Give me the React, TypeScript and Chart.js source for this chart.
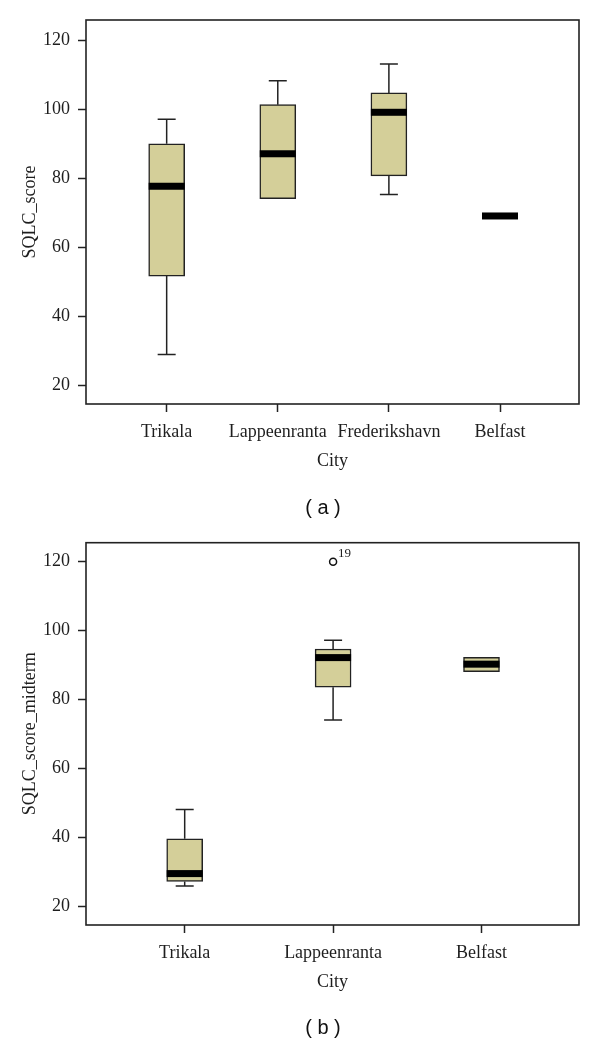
import React, { useEffect, useRef } from "react";
import { Chart, registerables } from "chart.js";

Chart.register(...registerables);

// ---------- Data (a) ----------
const citiesA = ["Trikala", "Lappeenranta", "Frederikshavn", "Belfast"];
const minA = [29, 74.1, 75.3, 69.1];
const q1A = [51.7, 74.1, 80.7, 69.1];
const medA = [77.7, 87.1, 99.1, 69.1];
const q3A = [90, 101.3, 104.7, 69.1];
const maxA = [97.1, 108.2, 113.1, 69.1];

// ---------- Data (b) ----------
const citiesB = ["Trikala", "Lappeenranta", "Belfast"];
const minB = [26, 74.1, 88.1];
const q1B = [27.3, 83.6, 88.1];
const medB = [29.6, 92.2, 90.3];
const q3B = [39.7, 94.7, 92.3];
const maxB = [48.2, 97.2, 92.3];
const outlierCityB = [1];
const outlierValueB = [120];
const outlierLabelB = ["19"];

const yTicks = [20, 40, 60, 80, 100, 120];

const BOX_FILL = "rgb(212,207,153)";
const EDGE = "#222222";
const TEXT = "#1e1e1e";
const SERIF = { family: "'Liberation Serif', 'Times New Roman', serif", size: 18 };

const boxPlugin = {
  id: "boxDecor",
  beforeDatasetsDraw(chart: any, _a: any, opts: any) {
    const { ctx } = chart;
    const xs = chart.scales.x;
    const ys = chart.scales.y;
    ctx.save();
    ctx.strokeStyle = EDGE;
    ctx.lineWidth = 1.5;
    opts.meds.forEach((_: number, i: number) => {
      const x = xs.getPixelForValue(i);
      const segs: [number, number][] = [];
      if (opts.maxs[i] > opts.q3s[i]) segs.push([opts.q3s[i], opts.maxs[i]]);
      if (opts.mins[i] < opts.q1s[i]) segs.push([opts.q1s[i], opts.mins[i]]);
      segs.forEach(([from, to]) => {
        const y0 = ys.getPixelForValue(from);
        const y1 = ys.getPixelForValue(to);
        ctx.beginPath();
        ctx.moveTo(x, y0);
        ctx.lineTo(x, y1);
        ctx.moveTo(x - 9, y1);
        ctx.lineTo(x + 9, y1);
        ctx.stroke();
      });
    });
    ctx.restore();
  },
  afterDatasetsDraw(chart: any, _a: any, opts: any) {
    const { ctx } = chart;
    const xs = chart.scales.x;
    const ys = chart.scales.y;
    ctx.save();
    ctx.fillStyle = "#000";
    opts.meds.forEach((m: number, i: number) => {
      const x = xs.getPixelForValue(i);
      const y = ys.getPixelForValue(m);
      ctx.fillRect(x - 18, y - 3.5, 36, 7);
    });
    ctx.fillStyle = TEXT;
    ctx.font = "13px 'Liberation Serif', serif";
    ctx.textBaseline = "alphabetic";
    (opts.outX || []).forEach((c: number, k: number) => {
      const x = xs.getPixelForValue(c);
      const y = ys.getPixelForValue(opts.outY[k]);
      ctx.fillText(opts.outLabels[k], x + 5, y - 5);
    });
    ctx.restore();
  },
  afterDraw(chart: any) {
    const { ctx, chartArea } = chart;
    ctx.save();
    ctx.strokeStyle = EDGE;
    ctx.lineWidth = 1.6;
    ctx.strokeRect(chartArea.left, chartArea.top, chartArea.right - chartArea.left, chartArea.bottom - chartArea.top);
    ctx.restore();
  },
};

type Props = {
  cats: string[];
  mins: number[];
  q1s: number[];
  meds: number[];
  q3s: number[];
  maxs: number[];
  outX: number[];
  outY: number[];
  outLabels: string[];
  yTitle: string;
  xMin: number;
  xMax: number;
  yMin: number;
  yMax: number;
  padTop: number;
  padBottom: number;
  height: number;
};

function BoxChart(p: Props) {
  const ref = useRef<HTMLCanvasElement>(null);
  useEffect(() => {
    const idx = p.cats.map((_, i) => i);
    const chart = new Chart(ref.current as HTMLCanvasElement, {
      type: "bar",
      data: {
        datasets: [
          {
            type: "bar",
            data: idx.map((i) => ({ x: i, y: [p.q1s[i], p.q3s[i]] })) as any,
            backgroundColor: BOX_FILL,
            borderColor: EDGE,
            borderWidth: 1.5,
            borderSkipped: false,
            barThickness: 36,
            grouped: false,
          } as any,
          {
            type: "scatter",
            data: p.outX.map((c, k) => ({ x: c, y: p.outY[k] })),
            pointRadius: 3.5,
            pointBackgroundColor: "#fff",
            pointBorderColor: "#111",
            pointBorderWidth: 1.5,
          } as any,
        ],
      },
      options: {
        responsive: false,
        animation: false,
        devicePixelRatio: 1,
        events: [],
        layout: { padding: { top: p.padTop, right: 21, bottom: p.padBottom, left: 0 } },
        plugins: {
          legend: { display: false },
          tooltip: { enabled: false },
          boxDecor: {
            mins: p.mins,
            q1s: p.q1s,
            meds: p.meds,
            q3s: p.q3s,
            maxs: p.maxs,
            outX: p.outX,
            outY: p.outY,
            outLabels: p.outLabels,
          },
        } as any,
        scales: {
          x: {
            type: "linear",
            min: p.xMin,
            max: p.xMax,
            offset: false,
            grid: {
              display: true,
              drawOnChartArea: false,
              drawTicks: true,
              tickLength: 8,
              tickColor: EDGE,
              tickWidth: 1.5,
              offset: false,
            },
            border: { display: false },
            afterBuildTicks: (s: any) => {
              s.ticks = idx.map((v) => ({ value: v }));
            },
            ticks: {
              callback: (v: any) => p.cats[Number(v)],
              font: SERIF,
              color: TEXT,
              padding: 9,
              maxRotation: 0,
              autoSkip: false,
            },
            title: { display: true, text: "City", font: SERIF, color: TEXT, padding: { top: 0, bottom: 0 } },
            afterFit: (s: any) => {
              s.height = 68.5;
            },
          } as any,
          y: {
            type: "linear",
            min: p.yMin,
            max: p.yMax,
            grid: {
              display: true,
              drawOnChartArea: false,
              drawTicks: true,
              tickLength: 8,
              tickColor: EDGE,
              tickWidth: 1.5,
            },
            border: { display: false },
            afterBuildTicks: (s: any) => {
              s.ticks = yTicks.map((v) => ({ value: v }));
            },
            ticks: { font: SERIF, color: TEXT, padding: 8 },
            title: { display: true, text: p.yTitle, font: SERIF, color: TEXT, padding: { top: 19, bottom: 0 } },
            afterFit: (s: any) => {
              s.width = 86;
            },
          } as any,
        },
      },
      plugins: [boxPlugin as any],
    });
    return () => chart.destroy();
  }, []);
  return <canvas ref={ref} width={600} height={p.height} style={{ display: "block" }} />;
}

const captionStyle: React.CSSProperties = {
  position: "absolute",
  left: 263,
  width: 120,
  textAlign: "center",
  fontFamily: "'Liberation Sans', Arial, sans-serif",
  fontSize: 20,
  lineHeight: "24px",
  color: "#111",
};

export default function App() {
  return (
    <div style={{ position: "absolute", left: 0, top: 0, width: 600, height: 1042, background: "#fff" }}>
      <div style={{ position: "absolute", left: 0, top: 0 }}>
        <BoxChart
          cats={citiesA}
          mins={minA}
          q1s={q1A}
          meds={medA}
          q3s={q3A}
          maxs={maxA}
          outX={[]}
          outY={[]}
          outLabels={[]}
          yTitle="SQLC_score"
          xMin={-0.726}
          xMax={3.711}
          yMin={14.7}
          yMax={125.8}
          padTop={20}
          padBottom={47.5}
          height={520}
        />
      </div>
      <div style={{ ...captionStyle, top: 495 }}>( a )</div>
      <div style={{ position: "absolute", left: 0, top: 520 }}>
        <BoxChart
          cats={citiesB}
          mins={minB}
          q1s={q1B}
          meds={medB}
          q3s={q3B}
          maxs={maxB}
          outX={outlierCityB}
          outY={outlierValueB}
          outLabels={outlierLabelB}
          yTitle="SQLC_score_midterm"
          xMin={-0.665}
          xMax={2.657}
          yMin={14.7}
          yMax={125.5}
          padTop={22.7}
          padBottom={48.5}
          height={522}
        />
      </div>
      <div style={{ ...captionStyle, top: 1015 }}>( b )</div>
    </div>
  );
}
